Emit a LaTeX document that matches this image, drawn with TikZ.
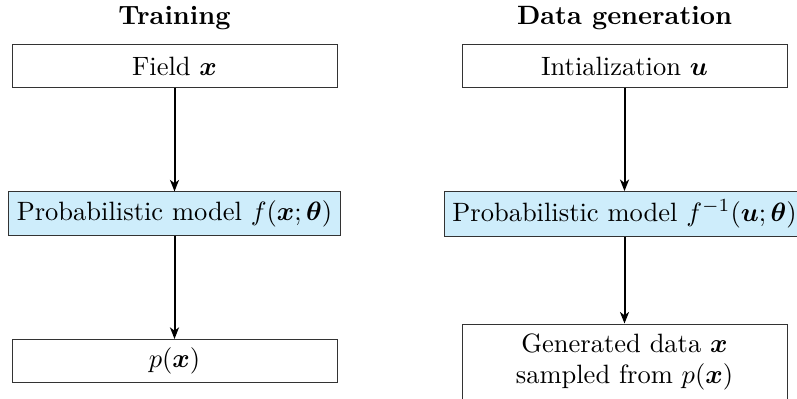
\RequirePackage{fix-cm}
\documentclass[tikz,border=0pt]{standalone}
\usepackage{amsmath,bm}
\usetikzlibrary{arrows.meta}
\definecolor{modelblue}{RGB}{206,237,251}
\newcommand{\diagfont}{\fontsize{10.6}{12.6}\selectfont}
\begin{document}
\begin{tikzpicture}[x=1pt,y=1pt,
  every node/.style={font=\diagfont},
  box/.style={draw=black!80, minimum width=130pt, minimum height=17pt, inner sep=3.33pt},
  model/.style={box, fill=modelblue, minimum width=0pt},
  title/.style={font=\diagfont\bfseries, anchor=base},
  flow/.style={-{Stealth[length=4.6pt, width=3.6pt, inset=1.3pt]}, thick}]
  \clip (0,0) rectangle (318.8,159.2);

  % training column
  \node[title] (ttrain) at (69.8,149.6) {Training};
  \node[box] (field) at (69.8,132.8) {Field $\bm{x}$};
  \node[model] (fwd) at (69.8,73.8) {Probabilistic model $f(\bm{x};\bm{\theta})$};
  \node[box] (px) at (69.8,14.8) {$p(\bm{x})$};
  \draw[flow] (field) -- (fwd);
  \draw[flow] (fwd) -- (px);

  % generation column
  \node[title] (tgen) at (249.8,149.6) {Data generation};
  \node[box] (init) at (249.8,132.8) {Intialization $\bm{u}$};
  \node[model] (inv) at (249.8,73.6) {Probabilistic model $f^{-1}(\bm{u};\bm{\theta})$};
  \node[box, align=center, text width=123pt, minimum height=30.4pt] (gen) at (249.8,14.4)
    {Generated data $\bm{x}$\\ sampled from $p(\bm{x})$};
  \draw[flow] (init) -- (inv);
  \draw[flow] (inv) -- (gen);
\end{tikzpicture}
\end{document}
